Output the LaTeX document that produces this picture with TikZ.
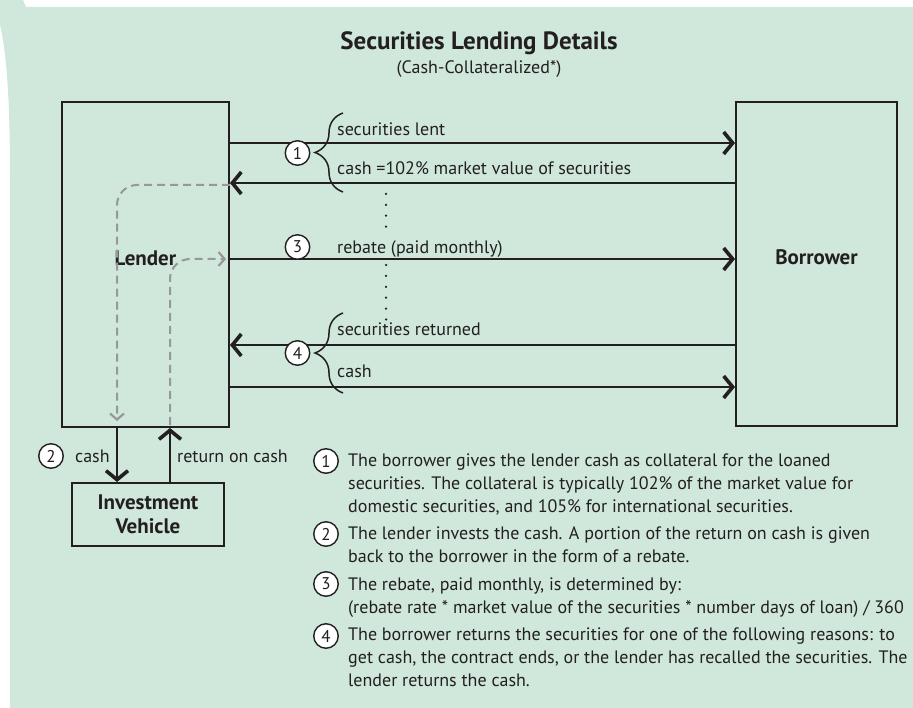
\documentclass[tikz,border=0pt]{standalone}
\usepackage{fontspec}
\setmainfont{PT Sans}
\usepackage{tikz}
\usetikzlibrary{arrows.meta}
\usetikzlibrary{decorations.pathreplacing}
\definecolor{bgreen}{RGB}{207,232,219}
\definecolor{ink}{RGB}{35,31,32}
\definecolor{dashgrey}{RGB}{152,152,152}
\newcommand{\stepno}[3]{ \node[stepcirc] (#1) at (#2) {#3};}
\newcommand{\flowtext}[3]{ \node[flowlabel] (#1) at (#2) {#3};}

\tikzset{
  party/.style={draw=ink, line width=2pt, inner sep=0pt, text=ink, font=\bfseries\fontsize{21}{24}\selectfont},
  stepcirc/.style={circle, draw=ink, line width=1.4pt, fill=white, minimum size=24.5pt, inner sep=0pt, text=ink, font=\fontsize{17}{17}\selectfont},
  flowlabel/.style={anchor=base west, inner sep=0pt, text=ink, font=\fontsize{18}{21}\selectfont},
  flow/.style={draw=ink, line width=1.6pt, -{Straight Barb[length=9pt,width=22pt,line width=3.6pt]}},
  backflow/.style={draw=dashgrey, line width=2pt, dash pattern=on 8pt off 5pt, rounded corners=20pt, -{Straight Barb[length=6pt,width=14pt,line width=2.2pt]}},
  dotline/.style={draw=ink, line width=2.5pt, line cap=round, dash pattern=on 0pt off 10.9pt},
  bracket/.style={draw=ink, line width=1.5pt, decorate, decoration={brace, amplitude=28pt}},
  note/.style={anchor=base west, inner sep=0pt, align=left, text=ink, font=\fontsize{18}{22.7}\selectfont},
}

\begin{document}
\begin{tikzpicture}[x=1pt, y=-1pt]
    \useasboundingbox (0,0) rectangle (913,708);
    % background
    \fill[bgreen] (0,0) -- (23,0) -- (26,7) -- (913,7) -- (913,708) -- (10,708) -- (10,175) .. controls (10,95) and (6,50) .. (0,25) -- cycle;

    % title
    \node[text=ink, font=\bfseries\fontsize{25}{28}\selectfont] (title) at (479,43) {Securities Lending Details};
    \node[text=ink, font=\fontsize{18}{20}\selectfont] (subtitle) at (479,69) {(Cash-Collateralized*)};

    % parties
    \node[party, minimum width=167pt, minimum height=325pt, text depth=13pt] (lender) at (145.5,264.5) {Lender};
    \node[party, minimum width=161pt, minimum height=324pt, text depth=13pt] (borrower) at (816.5,264) {Borrower};
    \node[party, minimum width=152pt, minimum height=63pt, align=center] (invest) at (148,514.5) {Investment\\Vehicle};

    % flows between lender and borrower
    \coordinate (lentY) at (0,143);
    \coordinate (collY) at (0,183);
    \coordinate (rebY) at (0,259);
    \coordinate (retY) at (0,345);
    \coordinate (cashY) at (0,387);

    \draw[flow] (lender.east |- lentY) -- (borrower.west |- lentY);
    \draw[flow] (borrower.west |- collY) -- (lender.east |- collY);
    \draw[flow] (lender.east |- rebY) -- (borrower.west |- rebY);
    \draw[flow] (borrower.west |- retY) -- (lender.east |- retY);
    \draw[flow] (lender.east |- cashY) -- (borrower.west |- cashY);

    \draw[dotline] (386,183) -- (386,227);
    \draw[dotline] (386,265) -- (386,322);

    \draw[bracket] (343,192) -- (343,113);
    \draw[bracket] (343,393) -- (343,313);

    \stepno{s1}{297.5,153}{1}
    \stepno{s3}{297.5,247}{3}
    \stepno{s4}{297.5,353}{4}

    \flowtext{lentlbl}{337,135.5}{securities lent}
    \flowtext{colllbl}{337,175}{cash =102\% market value of securities}
    \flowtext{reblbl}{337,254}{rebate (paid monthly)}
    \flowtext{retlbl}{337,336}{securities returned}
    \flowtext{cashlbl}{337,377.5}{cash}

    % cash routed through the lender
    \coordinate (dropA) at (117,185);
    \coordinate (dropB) at (117,421);
    \coordinate (riseA) at (170,425);
    \coordinate (riseB) at (170,259);
    \coordinate (riseC) at (226,259);
    \draw[backflow] (lender.east |- dropA) -- (dropA) -- (dropB);
    \draw[backflow] (riseA) -- (riseB) -- (riseC);

    % investment vehicle
    \coordinate (cashX) at (117,0);
    \coordinate (retX) at (170,0);
    \draw[flow] (lender.south -| cashX) -- (invest.north -| cashX);
    \draw[flow] (invest.north -| retX) -- (lender.south -| retX);
    \stepno{s2}{51,456}{2}
    \flowtext{investlbl}{75,462}{cash}
    \flowtext{returnlbl}{177,462}{return on cash}

    % notes
    \stepno{n1}{326,461}{1}
    \stepno{n2}{326,534}{2}
    \stepno{n3}{326,584}{3}
    \stepno{n4}{326,636}{4}
    \node[note] (note1) at (348,512) {The borrower gives the lender cash as collateral for the loaned\\securities.  The collateral is typically 102\% of the market value for\\domestic securities, and 105\% for international securities.};
    \node[note] (note2) at (348,562) {The lender invests the cash.  A portion of the return on cash is given\\back to the borrower in the form of a rebate.};
    \node[note] (note3) at (348,613) {The rebate, paid monthly, is determined by:\\(rebate rate * market value of the securities * number days of loan) / 360};
    \node[note] (note4) at (348,686) {The borrower returns the securities for one of the following reasons: to\\get cash, the contract ends, or the lender has recalled the securities.  The\\lender returns the cash.};
\end{tikzpicture}
\end{document}
